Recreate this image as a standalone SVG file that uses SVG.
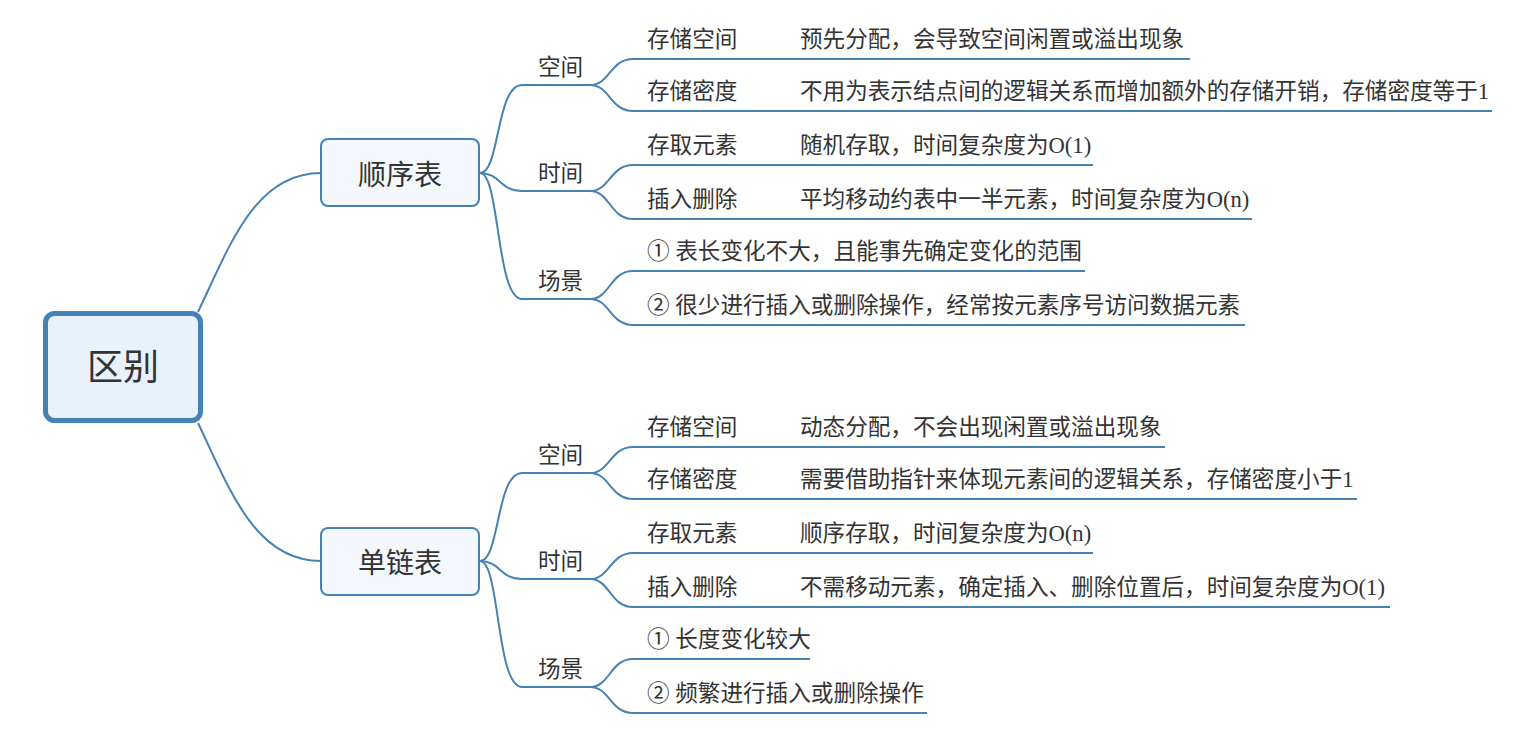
<svg xmlns="http://www.w3.org/2000/svg" width="1534" height="732" viewBox="0 0 1534 732">
<style>
text{font-family:"Liberation Serif","Noto Sans CJK SC",serif;fill:#333;}
.t{font-size:22.6px;}
.sub{font-size:28px;text-anchor:middle;}
.root{font-size:36px;text-anchor:middle;}
.c{fill:none;stroke:#4682b4;stroke-width:2;}
.u{fill:none;stroke:#4682b4;stroke-width:2.2;}
</style>
<rect width="1534" height="732" fill="#fff"/>
<g id="connectors">
<path class="c" d="M198,312 C230,245 255,173 321,173"/>
<path class="c" d="M198,423 C230,490 255,561 321,561"/>
<path class="c" d="M480,173 C500,173 496,85 522,85"/>
<path class="c" d="M480,173 C500,173 500,191 522,191"/>
<path class="c" d="M480,173 C500,173 496,299 522,299"/>
<path class="c" d="M480,561 C500,561 496,473 522,473"/>
<path class="c" d="M480,561 C500,561 500,579 522,579"/>
<path class="c" d="M480,561 C500,561 496,687 522,687"/>
<path class="c" d="M590,85 C610,85 610,59 633,59"/>
<path class="c" d="M590,85 C610,85 610,111 633,111"/>
<path class="c" d="M590,191 C610,191 610,165 633,165"/>
<path class="c" d="M590,191 C610,191 610,219 633,219"/>
<path class="c" d="M590,299 C610,299 610,271 633,271"/>
<path class="c" d="M590,299 C610,299 610,325 633,325"/>
<path class="c" d="M590,473 C610,473 610,447 633,447"/>
<path class="c" d="M590,473 C610,473 610,499 633,499"/>
<path class="c" d="M590,579 C610,579 610,553 633,553"/>
<path class="c" d="M590,579 C610,579 610,607 633,607"/>
<path class="c" d="M590,687 C610,687 610,659 633,659"/>
<path class="c" d="M590,687 C610,687 610,713 633,713"/>
</g>
<g id="root">
<rect x="45.5" y="313.5" width="155" height="107" rx="9" fill="#e9f1fb" stroke="#4682b4" stroke-width="5"/>
<text class="root" x="123" y="380">区别</text>
</g>
<g id="seq">
<rect x="321" y="139" width="158" height="67" rx="7" fill="#f4f8fd" stroke="#4682b4" stroke-width="2"/>
<text class="sub" x="400" y="185">顺序表</text>
</g>
<g id="link">
<rect x="321" y="528" width="158" height="67" rx="7" fill="#f4f8fd" stroke="#4682b4" stroke-width="2"/>
<text class="sub" x="400" y="573">单链表</text>
</g>
<g id="seq-space"><path class="u" d="M521,85 H590"/><text class="t" x="538" y="75">空间</text></g>
<g id="seq-time"><path class="u" d="M521,191 H590"/><text class="t" x="538" y="181">时间</text></g>
<g id="seq-scene"><path class="u" d="M521,299 H590"/><text class="t" x="538" y="289">场景</text></g>
<g id="seq-space-1"><path class="u" d="M632,59 H1190"/><text class="t" x="647" y="47">存储空间<tspan x="800">预先分配，会导致空间闲置或溢出现象</tspan></text></g>
<g id="seq-space-2"><path class="u" d="M632,111 H1492"/><text class="t" x="647" y="99">存储密度<tspan x="800">不用为表示结点间的逻辑关系而增加额外的存储开销，存储密度等于1</tspan></text></g>
<g id="seq-time-1"><path class="u" d="M632,165 H1093"/><text class="t" x="647" y="153">存取元素<tspan x="800">随机存取，时间复杂度为O(1)</tspan></text></g>
<g id="seq-time-2"><path class="u" d="M632,219 H1252"/><text class="t" x="647" y="207">插入删除<tspan x="800">平均移动约表中一半元素，时间复杂度为O(n)</tspan></text></g>
<g id="seq-scene-1"><path class="u" d="M632,271 H1085"/><text class="t" x="647" y="259">① 表长变化不大，且能事先确定变化的范围</text></g>
<g id="seq-scene-2"><path class="u" d="M632,325 H1245"/><text class="t" x="647" y="313">② 很少进行插入或删除操作，经常按元素序号访问数据元素</text></g>
<g id="link-space"><path class="u" d="M521,473 H590"/><text class="t" x="538" y="463">空间</text></g>
<g id="link-time"><path class="u" d="M521,579 H590"/><text class="t" x="538" y="569">时间</text></g>
<g id="link-scene"><path class="u" d="M521,687 H590"/><text class="t" x="538" y="677">场景</text></g>
<g id="link-space-1"><path class="u" d="M632,447 H1165"/><text class="t" x="647" y="435">存储空间<tspan x="800">动态分配，不会出现闲置或溢出现象</tspan></text></g>
<g id="link-space-2"><path class="u" d="M632,499 H1357"/><text class="t" x="647" y="487">存储密度<tspan x="800">需要借助指针来体现元素间的逻辑关系，存储密度小于1</tspan></text></g>
<g id="link-time-1"><path class="u" d="M632,553 H1093"/><text class="t" x="647" y="541">存取元素<tspan x="800">顺序存取，时间复杂度为O(n)</tspan></text></g>
<g id="link-time-2"><path class="u" d="M632,607 H1390"/><text class="t" x="647" y="595">插入删除<tspan x="800">不需移动元素，确定插入、删除位置后，时间复杂度为O(1)</tspan></text></g>
<g id="link-scene-1"><path class="u" d="M632,659 H810"/><text class="t" x="647" y="647">① 长度变化较大</text></g>
<g id="link-scene-2"><path class="u" d="M632,713 H927"/><text class="t" x="647" y="701">② 频繁进行插入或删除操作</text></g>
</svg>
